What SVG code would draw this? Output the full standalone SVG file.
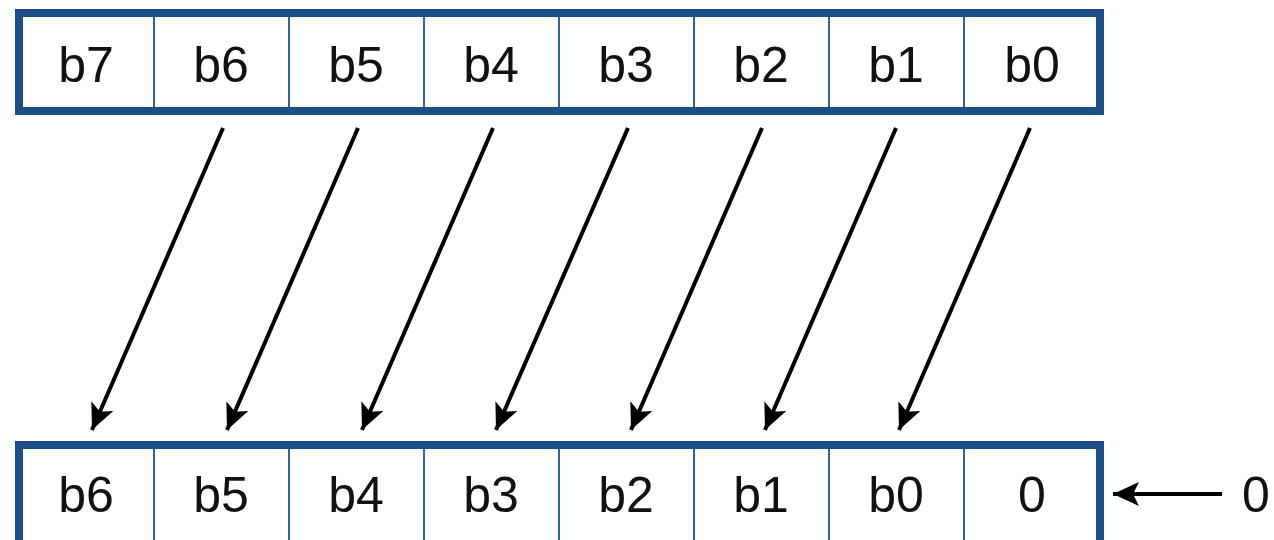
<svg xmlns="http://www.w3.org/2000/svg" width="1274" height="540" viewBox="0 0 1274 540">
<style>
.frame{fill:#fff;stroke:#1b4f86;stroke-width:8}
.div{stroke:#2d64a0;stroke-width:2}
.t{font-family:"Liberation Sans",Arial,sans-serif;font-size:50px;fill:#111;text-anchor:middle}
.arr{stroke:#000;stroke-width:4;fill:none;marker-end:url(#ah)}
</style>
<defs>
<marker id="ah" markerUnits="userSpaceOnUse" viewBox="0 0 26 24" refX="26" refY="12" markerWidth="26" markerHeight="24" orient="auto">
<path d="M0,0 L26,12 L0,24 L6,12 Z" fill="#000"/>
</marker>
</defs>
<g id="top-register">
<rect class="frame" x="19" y="13" width="1081" height="98"/>
<g class="div">
<line x1="154" y1="17" x2="154" y2="107"/><line x1="289" y1="17" x2="289" y2="107"/><line x1="424" y1="17" x2="424" y2="107"/><line x1="559" y1="17" x2="559" y2="107"/><line x1="694" y1="17" x2="694" y2="107"/><line x1="829" y1="17" x2="829" y2="107"/><line x1="964" y1="17" x2="964" y2="107"/>
</g>
<text class="t" x="86" y="82">b7</text><text class="t" x="221" y="82">b6</text><text class="t" x="356" y="82">b5</text><text class="t" x="491" y="82">b4</text><text class="t" x="626" y="82">b3</text><text class="t" x="761" y="82">b2</text><text class="t" x="896" y="82">b1</text><text class="t" x="1032" y="82">b0</text>
</g>
<g id="bottom-register">
<rect class="frame" x="19" y="445" width="1081" height="120"/>
<g class="div">
<line x1="154" y1="449" x2="154" y2="540"/><line x1="289" y1="449" x2="289" y2="540"/><line x1="424" y1="449" x2="424" y2="540"/><line x1="559" y1="449" x2="559" y2="540"/><line x1="694" y1="449" x2="694" y2="540"/><line x1="829" y1="449" x2="829" y2="540"/><line x1="964" y1="449" x2="964" y2="540"/>
</g>
<text class="t" x="86" y="512">b6</text><text class="t" x="221" y="512">b5</text><text class="t" x="356" y="512">b4</text><text class="t" x="491" y="512">b3</text><text class="t" x="626" y="512">b2</text><text class="t" x="761" y="512">b1</text><text class="t" x="896" y="512">b0</text><text class="t" x="1032" y="512">0</text>
</g>
<g id="input-zero">
<text class="t" x="1256" y="512">0</text>
</g>
<g id="connectors">
<line class="arr" x1="223" y1="128" x2="92" y2="430"/>
<line class="arr" x1="358" y1="128" x2="227" y2="430"/>
<line class="arr" x1="493" y1="128" x2="362" y2="430"/>
<line class="arr" x1="628" y1="128" x2="496" y2="430"/>
<line class="arr" x1="762" y1="128" x2="631" y2="430"/>
<line class="arr" x1="896" y1="128" x2="765" y2="430"/>
<line class="arr" x1="1030" y1="128" x2="899" y2="430"/>
<line class="arr" x1="1222" y1="494" x2="1113" y2="494"/>
</g>
</svg>
